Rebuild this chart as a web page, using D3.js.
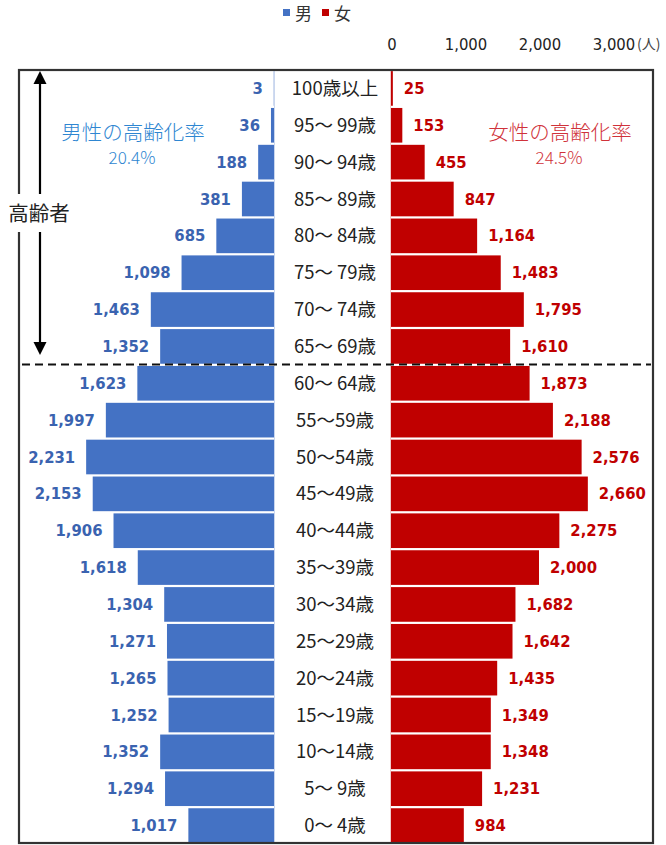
<!DOCTYPE html>
<html><head><meta charset="utf-8">
<script src="https://cdn.jsdelivr.net/npm/d3@7"></script>
<style>
body{margin:0;background:#fff;}
svg{display:block;}
</style></head>
<body>
<svg id="chart" width="666" height="845"></svg>
<script>
const categories = ["100歳以上","95～ 99歳","90～ 94歳","85～ 89歳","80～ 84歳","75～ 79歳","70～ 74歳","65～ 69歳","60～ 64歳","55～59歳","50～54歳","45～49歳","40～44歳","35～39歳","30～34歳","25～29歳","20～24歳","15～19歳","10～14歳","5～ 9歳","0～ 4歳"];
const male = [3,36,188,381,685,1098,1463,1352,1623,1997,2231,2153,1906,1618,1304,1271,1265,1252,1352,1294,1017];
const female = [25,153,455,847,1164,1483,1795,1610,1873,2188,2576,2660,2275,2000,1682,1642,1435,1349,1348,1231,984];
const tickValues = [0,1000,2000,3000];
const tickLabels = ["0","1,000","2,000","3,000"];
const legendLabels = ["男","女"];
const maleRate = "20.4%";
const femaleRate = "24.5%";

const svg = d3.select("#chart");
const C_M = "#4472C4", C_F = "#C00000";
const C_ML = "#3A63B0";
const fmt = d3.format(",");
const jp = "'Noto Sans CJK JP', sans-serif";
const num = "'Liberation Sans Narrow','DejaVu Sans Condensed','Roboto Condensed',Roboto,sans-serif";

const box = {x0:19, y0:70, x1:653, y1:843};
const y = d3.scaleBand().domain(categories).range([70, 844]).paddingInner(0.06).paddingOuter(0.03);
const xM = d3.scaleLinear().domain([0,3000]).range([274, 21.4]);
const xF = d3.scaleLinear().domain([0,3000]).range([391, 613]);

// axis lines (faint)
svg.append("line").attr("x1",xM(0)+0.5).attr("x2",xM(0)+0.5).attr("y1",box.y0).attr("y2",box.y1).attr("stroke","#c9d6ee").attr("stroke-width",1);
svg.append("line").attr("x1",xF(0)-0.5).attr("x2",xF(0)-0.5).attr("y1",box.y0).attr("y2",box.y1).attr("stroke","#f1cccc").attr("stroke-width",1);

// bars
svg.append("g").selectAll("rect").data(male).join("rect")
  .attr("x",d=>xM(d)).attr("width",d=>xM(0)-xM(d))
  .attr("y",(d,i)=>y(categories[i])).attr("height",y.bandwidth())
  .attr("fill",C_M);
svg.append("g").selectAll("rect").data(female).join("rect")
  .attr("x",xF(0)).attr("width",d=>xF(d)-xF(0))
  .attr("y",(d,i)=>y(categories[i])).attr("height",y.bandwidth())
  .attr("fill",C_F);

// value labels
svg.append("g").selectAll("text").data(male).join("text")
  .attr("x",d=>xM(d)-11).attr("y",(d,i)=>y(categories[i])+y.bandwidth()/2+5.5)
  .attr("text-anchor","end").attr("font-family",num).attr("font-weight","bold")
  .attr("font-size",16.5).attr("fill",C_ML).text(d=>fmt(d));
svg.append("g").selectAll("text").data(female).join("text")
  .attr("x",d=>xF(d)+11).attr("y",(d,i)=>y(categories[i])+y.bandwidth()/2+5.5)
  .attr("text-anchor","start").attr("font-family",num).attr("font-weight","bold")
  .attr("font-size",16.5).attr("fill",C_F).text(d=>fmt(d));

// category labels
svg.append("g").selectAll("text").data(categories).join("text")
  .attr("x",335).attr("y",d=>y(d)+y.bandwidth()/2+6.5)
  .attr("text-anchor","middle").attr("font-family",jp).attr("font-size",18.5)
  .attr("fill","#222").text(d=>d);

// dashed divider
svg.append("line").attr("x1",22).attr("x2",651).attr("y1",y(categories[8])-1.5).attr("y2",y(categories[8])-1.5)
  .attr("stroke","#111").attr("stroke-width",2).attr("stroke-dasharray","8,5");

// box
svg.append("rect").attr("x",box.x0).attr("y",box.y0).attr("width",box.x1-box.x0).attr("height",box.y1-box.y0)
  .attr("fill","none").attr("stroke","#333").attr("stroke-width",2.2);

// arrow
const ax = 40, ayTop = 71, ayBot = 355;
svg.append("line").attr("x1",ax).attr("x2",ax).attr("y1",ayTop+10).attr("y2",ayBot-10).attr("stroke","#000").attr("stroke-width",2.2);
svg.append("path").attr("d",`M${ax},${ayTop} L${ax-6.5},${ayTop+13} L${ax+6.5},${ayTop+13} Z`).attr("fill","#000");
svg.append("path").attr("d",`M${ax},${ayBot} L${ax-6.5},${ayBot-13} L${ax+6.5},${ayBot-13} Z`).attr("fill","#000");
// 高齢者 label with white background
svg.append("rect").attr("x",5).attr("y",194).attr("width",70).attr("height",38).attr("fill","#fff");
svg.append("text").attr("x",39).attr("y",221).attr("text-anchor","middle").attr("font-family",jp)
  .attr("font-size",20.5).attr("fill","#222").text("高齢者");

// rate annotations
svg.append("text").attr("x",133).attr("y",140).attr("text-anchor","middle").attr("font-family",jp).attr("font-weight",300)
  .attr("font-size",20.5).attr("fill","#2E86D1").text("男性の高齢化率");
svg.append("text").attr("x",132).attr("y",164).attr("text-anchor","middle").attr("font-family",jp).attr("font-weight",300)
  .attr("font-size",17).attr("fill","#2E86D1").text(maleRate);
svg.append("text").attr("x",560).attr("y",140).attr("text-anchor","middle").attr("font-family",jp).attr("font-weight",300)
  .attr("font-size",20.5).attr("fill","#D0323A").text("女性の高齢化率");
svg.append("text").attr("x",559).attr("y",164).attr("text-anchor","middle").attr("font-family",jp).attr("font-weight",300)
  .attr("font-size",17).attr("fill","#D0323A").text(femaleRate);

// top axis labels (female scale)
svg.append("g").selectAll("text").data(tickValues).join("text")
  .attr("x",d=>xF(d)+1).attr("y",50).attr("text-anchor","middle").attr("font-family",num)
  .attr("font-size",16.5).attr("fill","#222").text((d,i)=>tickLabels[i]);
svg.append("text").attr("x",637).attr("y",49).attr("font-family",jp).attr("font-size",14)
  .attr("fill","#444").text("(人)");

// legend
const lg = svg.append("g");
const lcols = [C_M, C_F];
legendLabels.forEach((t,i)=>{
  const x0 = 283 + i*39;
  lg.append("rect").attr("x",x0).attr("y",9).attr("width",7).attr("height",7).attr("fill",lcols[i]);
  lg.append("text").attr("x",x0+12).attr("y",20).attr("font-family",jp).attr("font-size",17).attr("fill","#333").text(t);
});
</script>
</body></html>
